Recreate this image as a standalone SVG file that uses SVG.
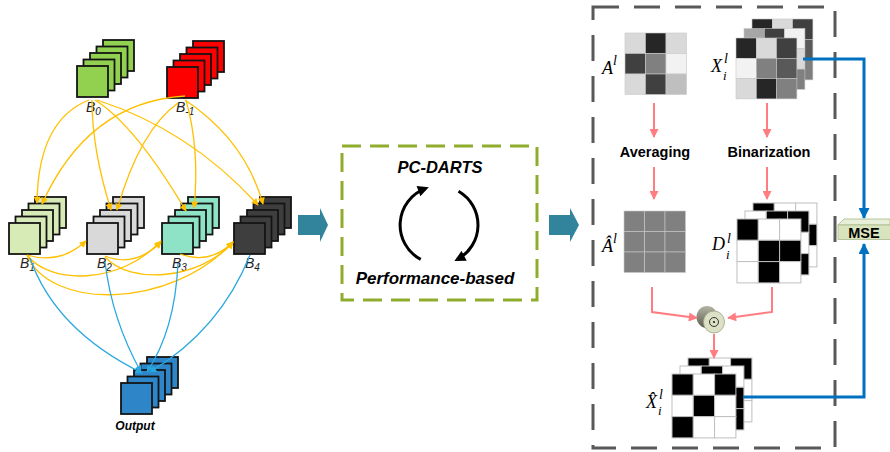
<svg xmlns="http://www.w3.org/2000/svg" width="890" height="452" viewBox="0 0 890 452">
<style>
.lbl{font-family:"Liberation Sans",Arial,sans-serif;font-style:italic;font-size:14px;fill:#222}
.sub{font-size:10px}
.ye{fill:none;stroke:#FFC000;stroke-width:1.3;marker-end:url(#ay)}
.bl{fill:none;stroke:#29A8E0;stroke-width:1.3;marker-end:url(#ab)}
.pk{fill:none;stroke:#FF7C80;stroke-width:2;marker-end:url(#ap)}
.ms{fill:none;stroke:#0070C0;stroke-width:3;marker-end:url(#am)}
.m rect{stroke:#c8c8c8;stroke-width:0.6}
.bin rect{stroke:#bfbfbf;stroke-width:1}
.w{fill:#fff}.k{fill:#000}
.math{font-family:"Liberation Serif","Times New Roman",serif;font-style:italic;fill:#000}
.bt{font-family:"Liberation Sans",Arial,sans-serif;font-weight:bold;font-size:14.5px;fill:#000;text-anchor:middle}
.bi{font-family:"Liberation Sans",Arial,sans-serif;font-weight:bold;font-style:italic;fill:#000;text-anchor:middle}
.teal{fill:#31849B}
</style>
<defs>
<marker id="ay" viewBox="0 0 10 10" refX="9" refY="5" markerWidth="8" markerHeight="7" markerUnits="userSpaceOnUse" orient="auto"><path d="M0,0 L10,5 L0,10 z" fill="#FFC000"/></marker>
<marker id="ab" viewBox="0 0 10 10" refX="9" refY="5" markerWidth="8" markerHeight="7" markerUnits="userSpaceOnUse" orient="auto"><path d="M0,0 L10,5 L0,10 z" fill="#29A8E0"/></marker>
<marker id="ap" viewBox="0 0 10 10" refX="9" refY="5" markerWidth="10" markerHeight="9" markerUnits="userSpaceOnUse" orient="auto"><path d="M0,0 L10,5 L0,10 z" fill="#FF7C80"/></marker>
<marker id="am" viewBox="0 0 10 10" refX="9" refY="5" markerWidth="12" markerHeight="11" markerUnits="userSpaceOnUse" orient="auto"><path d="M0,0 L10,5 L0,10 z" fill="#0070C0"/></marker>
<marker id="ak" viewBox="0 0 10 10" refX="7" refY="5" markerWidth="12" markerHeight="11" markerUnits="userSpaceOnUse" orient="auto"><path d="M0,0 L10,5 L0,10 z" fill="#000"/></marker>
<g id="stk" stroke="#141414" stroke-width="1.8">
<rect x="26" y="-26" width="31" height="31"/>
<rect x="19.5" y="-19.5" width="31" height="31"/>
<rect x="13" y="-13" width="31" height="31"/>
<rect x="6.5" y="-6.5" width="31" height="31"/>
<rect x="0" y="0" width="31" height="31"/>
</g>
<linearGradient id="cyl" x1="0" y1="0" x2="0" y2="1"><stop offset="0" stop-color="#B4B4A4"/><stop offset="1" stop-color="#5C5C4E"/></linearGradient>
</defs>

<!-- left graph nodes -->
<g id="node-B0"><use href="#stk" x="77" y="66" fill="#92D050"/><text class="lbl" x="86" y="112">B<tspan class="sub" dy="3">0</tspan></text></g>
<g id="node-Bm1"><use href="#stk" x="167" y="67" fill="#FF0000"/><text class="lbl" x="176" y="112">B<tspan class="sub" dy="3">-1</tspan></text></g>
<g id="node-B1"><use href="#stk" x="9" y="223" fill="#D7EBB6"/><text class="lbl" x="20" y="268">B<tspan class="sub" dy="3">1</tspan></text></g>
<g id="node-B2"><use href="#stk" x="87" y="223" fill="#D9D9D9"/><text class="lbl" x="97" y="268">B<tspan class="sub" dy="3">2</tspan></text></g>
<g id="node-B3"><use href="#stk" x="162" y="223" fill="#8EE2C6"/><text class="lbl" x="172" y="268">B<tspan class="sub" dy="3">3</tspan></text></g>
<g id="node-B4"><use href="#stk" x="234" y="223" fill="#3E3E3E"/><text class="lbl" x="245" y="268">B<tspan class="sub" dy="3">4</tspan></text></g>
<g id="node-output"><use href="#stk" x="121" y="383" fill="#2E86C8"/><text class="bi" x="135" y="430" font-size="12">Output</text></g>

<!-- middle search box -->
<g id="node-search">
<rect x="342" y="146" width="195" height="154" fill="none" stroke="#8FAC2D" stroke-width="3" stroke-dasharray="19 9"/>
<text class="bi" x="440" y="173" font-size="16.5">PC-DARTS</text>
<text class="bi" x="435" y="284" font-size="17">Performance-based</text>
</g>

<!-- right box -->
<g id="frame-right"><rect x="593" y="7" width="242" height="441" fill="none" stroke="#595959" stroke-width="3" stroke-dasharray="26 15"/></g>

<g id="node-A">
<g class="m">
<rect x="625" y="33" width="20.5" height="20.5" fill="#D9D9D9"/><rect x="645.5" y="33" width="20.5" height="20.5" fill="#262626"/><rect x="666" y="33" width="20.5" height="20.5" fill="#D9D9D9"/>
<rect x="625" y="53.5" width="20.5" height="20.5" fill="#404040"/><rect x="645.5" y="53.5" width="20.5" height="20.5" fill="#808080"/><rect x="666" y="53.5" width="20.5" height="20.5" fill="#F2F2F2"/>
<rect x="625" y="74" width="20.5" height="20.5" fill="#D9D9D9"/><rect x="645.5" y="74" width="20.5" height="20.5" fill="#404040"/><rect x="666" y="74" width="20.5" height="20.5" fill="#BFBFBF"/>
</g>
<text class="math" x="602" y="74" font-size="18">A<tspan dy="-9" font-size="14">l</tspan></text>
</g>

<g id="node-X">
<g class="m">
<rect x="752" y="19" width="20.3" height="20.3" fill="#262626"/><rect x="772.3" y="19" width="20.3" height="20.3" fill="#D9D9D9"/><rect x="792.6" y="19" width="20.3" height="20.3" fill="#404040"/>
<rect x="752" y="39.3" width="20.3" height="20.3" fill="#808080"/><rect x="772.3" y="39.3" width="20.3" height="20.3" fill="#A6A6A6"/><rect x="792.6" y="39.3" width="20.3" height="20.3" fill="#595959"/>
<rect x="752" y="59.6" width="20.3" height="20.3" fill="#D9D9D9"/><rect x="772.3" y="59.6" width="20.3" height="20.3" fill="#404040"/><rect x="792.6" y="59.6" width="20.3" height="20.3" fill="#7F7F7F"/>
</g>
<g class="m">
<rect x="744" y="28.5" width="20.3" height="20.3" fill="#A6A6A6"/><rect x="764.3" y="28.5" width="20.3" height="20.3" fill="#404040"/><rect x="784.6" y="28.5" width="20.3" height="20.3" fill="#F2F2F2"/>
<rect x="744" y="48.8" width="20.3" height="20.3" fill="#595959"/><rect x="764.3" y="48.8" width="20.3" height="20.3" fill="#808080"/><rect x="784.6" y="48.8" width="20.3" height="20.3" fill="#D9D9D9"/>
<rect x="744" y="69.1" width="20.3" height="20.3" fill="#D9D9D9"/><rect x="764.3" y="69.1" width="20.3" height="20.3" fill="#262626"/><rect x="784.6" y="69.1" width="20.3" height="20.3" fill="#808080"/>
</g>
<g class="m">
<rect x="736" y="38" width="20.3" height="20.3" fill="#262626"/><rect x="756.3" y="38" width="20.3" height="20.3" fill="#D9D9D9"/><rect x="776.6" y="38" width="20.3" height="20.3" fill="#404040"/>
<rect x="736" y="58.3" width="20.3" height="20.3" fill="#F2F2F2"/><rect x="756.3" y="58.3" width="20.3" height="20.3" fill="#808080"/><rect x="776.6" y="58.3" width="20.3" height="20.3" fill="#595959"/>
<rect x="736" y="78.6" width="20.3" height="20.3" fill="#D9D9D9"/><rect x="756.3" y="78.6" width="20.3" height="20.3" fill="#262626"/><rect x="776.6" y="78.6" width="20.3" height="20.3" fill="#808080"/>
</g>
<text class="math" x="711" y="72" font-size="18">X<tspan x="724" y="63" font-size="14">l</tspan><tspan x="723" y="80" font-size="13">i</tspan></text>
</g>

<g id="node-averaging"><text class="bt" x="655" y="157">Averaging</text></g>
<g id="node-binarization"><text class="bt" x="769" y="157">Binarization</text></g>

<g id="node-Ahat">
<g class="m">
<rect x="624" y="211" width="20.5" height="20.5" fill="#808080" stroke="#A6A6A6"/><rect x="644.5" y="211" width="20.5" height="20.5" fill="#808080" stroke="#A6A6A6"/><rect x="665" y="211" width="20.5" height="20.5" fill="#808080" stroke="#A6A6A6"/>
<rect x="624" y="231.5" width="20.5" height="20.5" fill="#808080" stroke="#A6A6A6"/><rect x="644.5" y="231.5" width="20.5" height="20.5" fill="#808080" stroke="#A6A6A6"/><rect x="665" y="231.5" width="20.5" height="20.5" fill="#808080" stroke="#A6A6A6"/>
<rect x="624" y="252" width="20.5" height="20.5" fill="#808080" stroke="#A6A6A6"/><rect x="644.5" y="252" width="20.5" height="20.5" fill="#808080" stroke="#A6A6A6"/><rect x="665" y="252" width="20.5" height="20.5" fill="#808080" stroke="#A6A6A6"/>
</g>
<text class="math" x="602" y="252" font-size="18">Â<tspan dy="-9" font-size="14">l</tspan></text>
</g>

<g id="node-D">
<g class="bin">
<rect class="k" x="753" y="203" width="21.3" height="21.3"/><rect class="w" x="774.3" y="203" width="21.3" height="21.3"/><rect class="w" x="795.6" y="203" width="21.3" height="21.3"/>
<rect class="w" x="753" y="224.3" width="21.3" height="21.3"/><rect class="w" x="774.3" y="224.3" width="21.3" height="21.3"/><rect class="k" x="795.6" y="224.3" width="21.3" height="21.3"/>
<rect class="w" x="753" y="245.6" width="21.3" height="21.3"/><rect class="w" x="774.3" y="245.6" width="21.3" height="21.3"/><rect class="w" x="795.6" y="245.6" width="21.3" height="21.3"/>
</g>
<g class="bin">
<rect class="w" x="745" y="211" width="21.3" height="21.3"/><rect class="k" x="766.3" y="211" width="21.3" height="21.3"/><rect class="k" x="787.6" y="211" width="21.3" height="21.3"/>
<rect class="w" x="745" y="232.3" width="21.3" height="21.3"/><rect class="w" x="766.3" y="232.3" width="21.3" height="21.3"/><rect class="w" x="787.6" y="232.3" width="21.3" height="21.3"/>
<rect class="w" x="745" y="253.6" width="21.3" height="21.3"/><rect class="w" x="766.3" y="253.6" width="21.3" height="21.3"/><rect class="k" x="787.6" y="253.6" width="21.3" height="21.3"/>
</g>
<g class="bin">
<rect class="k" x="737" y="219" width="21.3" height="21.3"/><rect class="w" x="758.3" y="219" width="21.3" height="21.3"/><rect class="w" x="779.6" y="219" width="21.3" height="21.3"/>
<rect class="w" x="737" y="240.3" width="21.3" height="21.3"/><rect class="k" x="758.3" y="240.3" width="21.3" height="21.3"/><rect class="k" x="779.6" y="240.3" width="21.3" height="21.3"/>
<rect class="w" x="737" y="261.6" width="21.3" height="21.3"/><rect class="k" x="758.3" y="261.6" width="21.3" height="21.3"/><rect class="w" x="779.6" y="261.6" width="21.3" height="21.3"/>
</g>
<text class="math" x="712" y="250" font-size="18">D<tspan x="727" y="243" font-size="14">l</tspan><tspan x="726" y="259" font-size="13">i</tspan></text>
</g>

<g id="node-hadamard">
<ellipse cx="707" cy="317" rx="10.5" ry="11" fill="url(#cyl)"/>
<polygon points="707,306 714,311 714,333 707,328" fill="url(#cyl)"/>
<ellipse cx="714" cy="322" rx="10.5" ry="11" fill="#DCE0C4" stroke="#9EA18A" stroke-width="0.8"/>
<circle cx="714" cy="322" r="4.5" fill="none" stroke="#222" stroke-width="0.9"/>
<circle cx="714" cy="322" r="1.1" fill="#222"/>
</g>

<g id="node-Xhat">
<g class="bin">
<rect class="k" x="688" y="358" width="21.3" height="21.3"/><rect class="w" x="709.3" y="358" width="21.3" height="21.3"/><rect class="k" x="730.6" y="358" width="21.3" height="21.3"/>
<rect class="w" x="688" y="379.3" width="21.3" height="21.3"/><rect class="w" x="709.3" y="379.3" width="21.3" height="21.3"/><rect class="w" x="730.6" y="379.3" width="21.3" height="21.3"/>
<rect class="w" x="688" y="400.6" width="21.3" height="21.3"/><rect class="w" x="709.3" y="400.6" width="21.3" height="21.3"/><rect class="w" x="730.6" y="400.6" width="21.3" height="21.3"/>
</g>
<g class="bin">
<rect class="w" x="680" y="366" width="21.3" height="21.3"/><rect class="k" x="701.3" y="366" width="21.3" height="21.3"/><rect class="w" x="722.6" y="366" width="21.3" height="21.3"/>
<rect class="w" x="680" y="387.3" width="21.3" height="21.3"/><rect class="w" x="701.3" y="387.3" width="21.3" height="21.3"/><rect class="k" x="722.6" y="387.3" width="21.3" height="21.3"/>
<rect class="w" x="680" y="408.6" width="21.3" height="21.3"/><rect class="w" x="701.3" y="408.6" width="21.3" height="21.3"/><rect class="k" x="722.6" y="408.6" width="21.3" height="21.3"/>
</g>
<g class="bin">
<rect class="k" x="672" y="374" width="21.3" height="21.3"/><rect class="w" x="693.3" y="374" width="21.3" height="21.3"/><rect class="k" x="714.6" y="374" width="21.3" height="21.3"/>
<rect class="w" x="672" y="395.3" width="21.3" height="21.3"/><rect class="k" x="693.3" y="395.3" width="21.3" height="21.3"/><rect class="w" x="714.6" y="395.3" width="21.3" height="21.3"/>
<rect class="k" x="672" y="416.6" width="21.3" height="21.3"/><rect class="w" x="693.3" y="416.6" width="21.3" height="21.3"/><rect class="w" x="714.6" y="416.6" width="21.3" height="21.3"/>
</g>
<text class="math" x="646" y="408" font-size="18">X&#x302;<tspan x="659" y="399" font-size="14">l</tspan><tspan x="658" y="415" font-size="13">i</tspan></text>
</g>

<g id="node-MSE">
<polygon points="838,225 844,219 890,219 890,225" fill="#E8EFD8" stroke="#A9B98A" stroke-width="0.8"/>
<rect x="838" y="225" width="53" height="14.5" fill="#D7E4BD" stroke="#A9B98A" stroke-width="0.8"/>
<text class="bt" x="864" y="237.5" font-size="14">MSE</text>
</g>

<!-- connectors -->
<g id="connectors">
<path class="ye" d="M89 100 Q38 120 37 203"/>
<path class="ye" d="M92 100 Q92 150 111 210"/>
<path class="ye" d="M95 100 Q135 125 186 211"/>
<path class="ye" d="M97 100 Q190 130 258 205"/>
<path class="ye" d="M185 96 Q88 102 42 204"/>
<path class="ye" d="M178 103 Q140 130 117 210"/>
<path class="ye" d="M186 100 Q200 150 194 208"/>
<path class="ye" d="M185 100 Q245 140 263 204"/>
<path class="ye" d="M27 255 Q60 265 86 241"/>
<path class="ye" d="M27 255 C50 285 120 285 161 241"/>
<path class="ye" d="M27 255 C50 310 170 310 233 242"/>
<path class="ye" d="M105 256 Q135 268 161 242"/>
<path class="ye" d="M105 257 C130 285 200 280 233 242"/>
<path class="ye" d="M180 254 Q210 265 233 242"/>
<path class="bl" d="M30 258 Q55 330 142 373"/>
<path class="bl" d="M105 262 Q112 320 141 372"/>
<path class="bl" d="M178 263 Q175 330 147 372"/>
<path class="bl" d="M250 255 Q220 330 150 372"/>
<polygon class="teal" points="298,215 320,215 320,208 328,225 320,242 320,235 298,235"/>
<polygon class="teal" points="549,215 570,215 570,208 579,225 570,242 570,235 549,235"/>
<path d="M420.7 259.4 A39 39 0 0 1 425.7 188.4" fill="none" stroke="#000" stroke-width="3" marker-end="url(#ak)"/>
<path d="M458.5 191.2 A39 39 0 0 1 457.3 259.4" fill="none" stroke="#000" stroke-width="3" marker-end="url(#ak)"/>
<path class="pk" d="M654 103 V137"/>
<path class="pk" d="M654 167 V199"/>
<path class="pk" d="M767 103 V137"/>
<path class="pk" d="M767 167 V199"/>
<path class="pk" d="M652 287 V312 L697 318"/>
<path class="pk" d="M772 287 V312 L728 318"/>
<path class="pk" d="M714 334 V358"/>
<path class="ms" d="M803 59 H864 V218"/>
<path class="ms" d="M743 397 H864 V244"/>
</g>
</svg>
